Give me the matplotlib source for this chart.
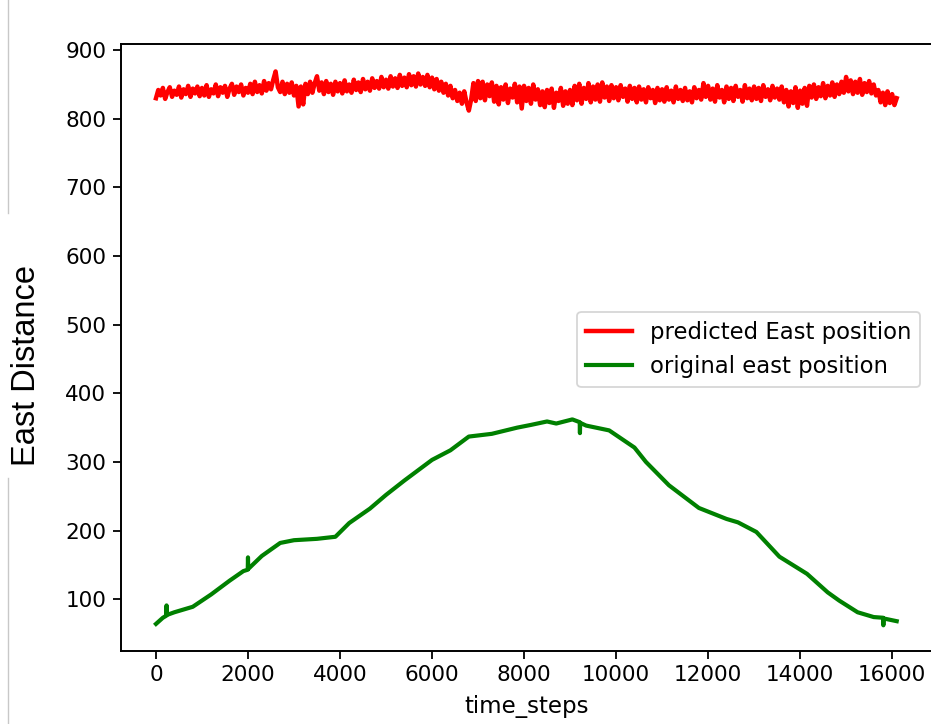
import matplotlib
matplotlib.use("Agg")
import matplotlib.pyplot as plt
from matplotlib.lines import Line2D

# ---------------- data ----------------
green_t = [0, 150, 225, 230, 235, 400, 800, 1200, 1600, 1900, 1995, 2000, 2005,
           2300, 2700, 3000, 3500, 3900, 4200, 4650, 5000, 5400, 6000, 6400, 6800,
           7300, 7850, 8150, 8500, 8700, 9050, 9210, 9215, 9220, 9350, 9850, 10400,
           10650, 11150, 11800, 12400, 12650, 13050, 13550, 14150, 14600, 14850,
           15250, 15600, 15805, 15810, 15815, 16100]
green_v = [64, 73, 76, 91, 77, 81, 89, 107, 127, 141, 143, 161, 144,
           163, 182, 186, 188, 191, 211, 232, 252, 273, 303, 317, 337,
           341, 350, 354, 359, 356, 362, 358, 342, 357, 353, 346, 321,
           300, 266, 233, 217, 212, 198, 162, 137, 110, 98,
           81, 74, 73, 62, 72, 68]

red_step = 50
red_v = [
    830, 842, 834, 845, 829, 839, 846, 832, 841, 835, 847, 831, 843, 836, 848, 832, 844, 837, 847, 833,
    845, 834, 849, 832, 843, 837, 850, 833, 846, 838, 848, 832, 844, 851, 835, 847, 839, 850, 834, 845,
    838, 851, 836, 854, 839, 849, 837, 855, 841, 852, 843, 857, 869, 846, 839, 854, 836, 851, 838, 853,
    834, 848, 818, 847, 821, 851, 836, 854, 838, 852, 862, 841, 853, 836, 855, 839, 851, 835, 854, 840,
    852, 837, 856, 840, 850, 838, 857, 842, 853, 839, 858, 843, 854, 841, 859, 845, 855, 844, 861, 846,
    857, 844, 862, 847, 859, 845, 864, 848, 860, 846, 865, 849, 862, 847, 866, 850, 861, 848, 864, 846,
    860, 843, 858, 841, 854, 838, 851, 834, 848, 830, 842, 826, 838, 822, 840, 824, 812, 828, 852, 826,
    855, 830, 854, 827, 850, 833, 853, 825, 848, 821, 846, 828, 850, 823, 844, 831, 851, 824, 847, 815,
    848, 826, 845, 822, 850, 828, 843, 820, 840, 817, 842, 823, 844, 816, 838, 826, 845, 819, 840, 822,
    842, 820, 848, 827, 851, 822, 845, 829, 852, 824, 847, 828, 850, 825, 853, 831, 847, 826, 849, 830,
    846, 827, 849, 832, 844, 825, 848, 829, 845, 824, 847, 828, 843, 824, 846, 830, 842, 823, 845, 827,
    843, 825, 846, 828, 841, 824, 847, 829, 842, 826, 845, 827, 840, 824, 846, 830, 842, 828, 852, 832,
    848, 828, 844, 825, 849, 831, 842, 824, 847, 829, 845, 826, 848, 832, 842, 825, 849, 830, 844, 827,
    847, 829, 845, 826, 849, 832, 843, 827, 848, 831, 844, 828, 847, 824, 842, 818, 840, 823, 846, 816,
    841, 822, 845, 819, 848, 831, 850, 829, 846, 833, 852, 830, 848, 834, 853, 832, 850, 836, 854, 838,
    861, 840, 856, 836, 854, 838, 858, 835, 852, 839, 855, 837, 850, 834, 842, 824, 838, 820, 840, 823,
    836, 820, 830,
]
red_t = [i * red_step for i in range(len(red_v))]

x_ticks = [0, 2000, 4000, 6000, 8000, 10000, 12000, 14000, 16000]
y_ticks = [100, 200, 300, 400, 500, 600, 700, 800, 900]
label_red = "predicted East position"
label_green = "original east position"

# ---------------- figure ----------------
W, H = 931, 724
fig = plt.figure(figsize=(W / 100, H / 100), dpi=100)
ax = fig.add_axes([121 / W, 1 - 650.7 / H, (932.6 - 121) / W, (650.7 - 44) / H])

ax.plot(red_t, red_v, color="red", lw=3.2, label=label_red)
ax.plot(green_t, green_v, color="green", lw=3.0, label=label_green)

ax.set_xlim(-760, 16880)
ax.set_ylim(25, 909)
ax.set_xticks(x_ticks)
ax.set_yticks(y_ticks)

fs = 15.5
ax.tick_params(labelsize=fs, length=5.5, width=1.3, pad=5)
for sp in ax.spines.values():
    sp.set_linewidth(1.4)
ax.set_xlabel("time_steps", fontsize=16.5, labelpad=7)

leg = ax.legend(loc="upper left", bbox_to_anchor=(577 / W, 1 - 311.5 / H),
                bbox_transform=fig.transFigure, borderaxespad=0, fontsize=16.4,
                handlelength=2.0, frameon=True)
leg.get_frame().set_linewidth(1.3)

fig.text(27 / W, 1 - 365 / H, "East Distance", rotation=90, ha="center", va="center",
         fontsize=23.5, family=["Liberation Sans", "DejaVu Sans"])

# thin gray screenshot edge line
fig.add_artist(Line2D([8 / W, 8 / W], [1.0, 1 - 213 / H], transform=fig.transFigure,
                      color="#c8c8c8", lw=1))
fig.add_artist(Line2D([8 / W, 8 / W], [1 - 478 / H, 0.0], transform=fig.transFigure,
                      color="#c8c8c8", lw=1))

fig.savefig("out.png", dpi=100)
